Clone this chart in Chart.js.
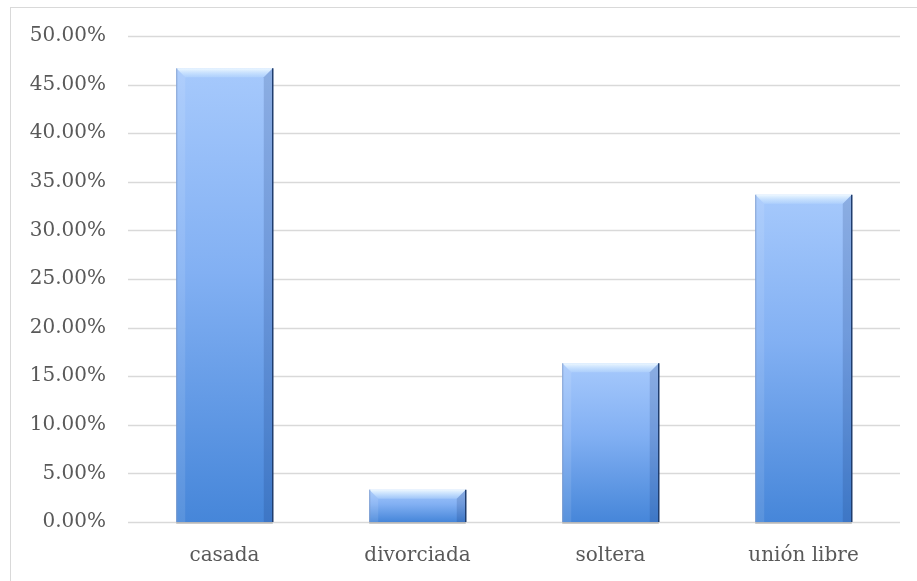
<!DOCTYPE html>
<html>
<head>
<meta charset="utf-8">
<script src="https://cdn.jsdelivr.net/npm/chart.js@4.4.1/dist/chart.umd.min.js"></script>
<style>
  html, body { margin: 0; padding: 0; background: #fff; }
  body { width: 917px; height: 581px; position: relative; overflow: hidden; }
  #frame { position: absolute; left: 10px; top: 7px; width: 1000px; height: 1000px; border: 1px solid #d9d9d9; }
  #wrap { position: absolute; left: 0; top: 0; width: 917px; height: 581px; }
</style>
</head>
<body>
<div id="frame"></div>
<div id="wrap"><canvas id="chart"></canvas></div>
<script>
// data
const categories = ["casada", "divorciada", "soltera", "unión libre"];
const shares = [46.67, 3.33, 16.33, 33.67];
const yTicks = [0, 5, 10, 15, 20, 25, 30, 35, 40, 45, 50];

const FONT = "'DejaVu Serif', 'Liberation Serif', serif";
const TEXT = "#595959";

// per bar gradient, light on top, darker at the base
function barFill(ctx) {
  const chart = ctx.chart;
  const y = chart.scales.y;
  if (!y || ctx.raw == null) return "#6a9fe8";
  const top = y.getPixelForValue(ctx.raw);
  const base = y.getPixelForValue(0);
  if (!isFinite(top) || !isFinite(base) || base === top) return "#6a9fe8";
  const g = chart.ctx.createLinearGradient(0, top, 0, base);
  g.addColorStop(0, "#a6c9fc");
  g.addColorStop(0.45, "#82b0f3");
  g.addColorStop(1, "#4686d9");
  return g;
}

// horizontal gridlines, kept strictly inside the chart area
const gridLines = {
  id: "gridLines",
  beforeDatasetsDraw(chart) {
    const { ctx: c, chartArea: a, scales: { y } } = chart;
    c.save();
    c.strokeStyle = "#d9d9d9";
    c.lineWidth = 1.5;
    y.ticks.forEach(t => {
      const py = Math.round(y.getPixelForValue(t.value)) + 0.5;
      c.beginPath(); c.moveTo(a.left, py); c.lineTo(a.right, py); c.stroke();
    });
    c.restore();
  }
};

// bevel on top of each bar + dark right edge, using the bar elements
const bevel = {
  id: "bevel",
  afterDatasetsDraw(chart) {
    const c = chart.ctx;
    chart.getDatasetMeta(0).data.forEach(bar => {
      const { x, y, width, base } = bar.getProps(["x", "y", "width", "base"], true);
      const l = x - width / 2, r = x + width / 2, b = 9;
      c.save();
      let g = c.createLinearGradient(0, y, 0, y + b);
      g.addColorStop(0, "#eef8ff");
      g.addColorStop(1, "rgba(200,228,255,0.3)");
      c.fillStyle = g;
      c.beginPath();
      c.moveTo(l, y); c.lineTo(r, y); c.lineTo(r - b, y + b); c.lineTo(l + b, y + b);
      c.closePath(); c.fill();
      // side shades
      c.fillStyle = "rgba(255,255,255,0.10)";
      c.beginPath();
      c.moveTo(l, y); c.lineTo(l + b, y + b); c.lineTo(l + b, base); c.lineTo(l, base);
      c.closePath(); c.fill();
      c.fillStyle = "rgba(20,50,110,0.18)";
      c.beginPath();
      c.moveTo(r, y); c.lineTo(r - b, y + b); c.lineTo(r - b, base); c.lineTo(r, base);
      c.closePath(); c.fill();
      c.strokeStyle = "#1f3d6e";
      c.lineWidth = 1.5;
      c.beginPath(); c.moveTo(r, y); c.lineTo(r, base); c.stroke();
      c.strokeStyle = "rgba(120,150,200,0.8)";
      c.lineWidth = 1;
      c.beginPath(); c.moveTo(l + 0.5, y); c.lineTo(l + 0.5, base); c.stroke();
      // soft shadow below
      c.fillStyle = "rgba(120,120,120,0.35)";
      c.fillRect(l, base, width, 2);
      c.restore();
    });
  }
};

new Chart(document.getElementById("chart"), {
  type: "bar",
  data: {
    labels: categories,
    datasets: [{
      data: shares,
      backgroundColor: barFill,
      borderWidth: 0,
      categoryPercentage: 1,
      barPercentage: 0.5
    }]
  },
  options: {
    responsive: true,
    maintainAspectRatio: false,
    animation: false,
    layout: { padding: { top: 36, right: 17, bottom: 0, left: 0 } },
    plugins: { legend: { display: false }, tooltip: { enabled: false } },
    scales: {
      x: {
        grid: { display: false },
        border: { display: false },
        ticks: { color: TEXT, font: { family: FONT, size: 20 }, padding: 14 },
        afterFit: s => { s.height = 59; }
      },
      y: {
        min: 0,
        max: 50,
        afterBuildTicks: s => { s.ticks = yTicks.map(v => ({ value: v })); },
        grid: { display: false, drawTicks: false },
        border: { display: false },
        ticks: {
          color: TEXT,
          font: { family: FONT, size: 20 },
          padding: 22,
          callback: v => v.toFixed(2) + "%"
        },
        afterFit: s => { s.width = 128; }
      }
    }
  },
  plugins: [gridLines, bevel]
});
</script>
</body>
</html>
